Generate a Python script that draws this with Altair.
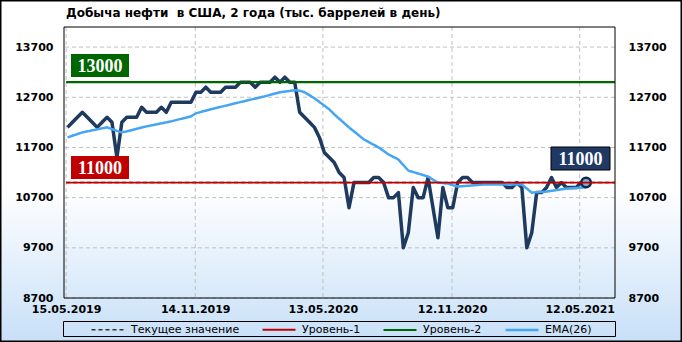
import altair as alt
import pandas as pd

TITLE = "Добыча нефти \u00a0в США, 2 года (тыс. баррелей в день)"
START = "2019-05-17"

production = [
    12100, 12200, 12300, 12400, 12300, 12200, 12100, 12200, 12300, 12200,
    11500, 12200, 12300, 12300, 12300, 12500, 12400, 12400, 12400, 12500,
    12400, 12600, 12600, 12600, 12600, 12600, 12800, 12800, 12900, 12800,
    12800, 12800, 12900, 12900, 12900, 13000, 13000, 13000, 12900, 13000,
    13000, 13000, 13100, 13000, 13100, 13000, 13000, 12400, 12300, 12200,
    12100, 11900, 11600, 11500, 11400, 11200, 11100, 10500, 11000, 11000,
    11000, 11000, 11100, 11100, 11000, 10700, 10700, 10800, 9700, 10000,
    10900, 10700, 10700, 11100, 10500, 9900, 10900, 10500, 10500, 11000,
    11100, 11100, 11000, 11000, 11000, 11000, 11000, 11000, 11000, 10900,
    10900, 11000, 10900, 9700, 10000, 10800, 10800, 10900, 11100, 10900,
    11000, 10900, 10900, 10900, 11000, 11000,
]

ema_week = [0, 3, 5, 8, 10, 11, 12, 16, 21, 25, 26, 29, 34, 40, 43, 46, 47, 48,
            50, 53, 54, 57, 60, 63, 65, 67, 69, 72, 73, 75, 77, 79, 84, 92, 94,
            97, 101, 104, 105]
ema_value = [11900, 12000, 12040, 12100, 12030, 12000, 12020, 12120, 12220, 12320,
             12380, 12460, 12580, 12720, 12800, 12840, 12830, 12800, 12680, 12460,
             12360, 12100, 11860, 11700, 11560, 11460, 11240, 11150, 11120, 11000,
             10980, 10920, 10960, 10960, 10800, 10820, 10880, 10900, 10900]

level1 = 11000
level2 = 13000
current = 11000
level_span = ["2019-05-15", "2021-07-01"]

x_ticks = ["2019-05-15", "2019-11-14", "2020-05-13", "2020-11-12", "2021-05-12"]
y_ticks = [8700, 9700, 10700, 11700, 12700, 13700]

series_names = ["Текущее значение", "Уровень-1", "Уровень-2", "EMA(26)"]
series_colors = ["#333333", "#C00000", "#006600", "#45A5F5"]
series_dash = [[4, 3], [1, 0], [1, 0], [1, 0]]
series_width = [1.5, 2.5, 2.5, 4]

# ---------- tables ----------
dates = pd.date_range(START, periods=len(production), freq="7D")
df_main = pd.DataFrame({"date": dates.strftime("%Y-%m-%d"), "value": production})
df_ema = pd.DataFrame({"date": [dates[i].strftime("%Y-%m-%d") for i in ema_week],
                       "value": ema_value, "series": "EMA(26)"})
df_l1 = pd.DataFrame({"date": level_span, "value": [level1] * 2, "series": "Уровень-1"})
df_l2 = pd.DataFrame({"date": level_span, "value": [level2] * 2, "series": "Уровень-2"})
df_cur = pd.DataFrame({"date": level_span, "value": [current] * 2, "series": "Текущее значение"})
df_last = df_main.tail(1)
df_xt = pd.DataFrame({"date": x_ticks})
df_yt = pd.DataFrame({"v": y_ticks})
one = pd.DataFrame({"a": [0]})

W, H = 551, 271
FONT = "DejaVu Sans"

def dt(s):
    y, m, d = [int(p) for p in s.split("-")]
    return alt.DateTime(year=y, month=m, date=d)

xs = alt.Scale(domain=[dt("2019-05-12"), dt("2021-07-01")])
ys = alt.Scale(domain=[8700, 14100], nice=False, zero=False)

xaxis = alt.Axis(values=[dt(s) for s in x_ticks], format="%d.%m.%Y", title=None,
                 grid=False, ticks=False, domain=False, labelFont=FONT,
                 labelFontWeight="bold", labelFontSize=11, labelColor="black",
                 labelPadding=5, labelOverlap=False, labelFlush=False, zindex=2)
yaxis = alt.Axis(values=y_ticks, format="d", title=None, grid=False, ticks=False,
                 domain=False, labelFont=FONT, labelFontWeight="bold",
                 labelFontSize=11, labelColor="black", labelPadding=11, zindex=2)
yaxis_r = alt.Axis(values=y_ticks, format="d", title=None, grid=False, ticks=False,
                   domain=False, orient="right", labelFont=FONT, labelFontWeight="bold",
                   labelFontSize=11, labelColor="black", labelPadding=13, zindex=2)

def X(f="date"):
    return alt.X(f, type="temporal", scale=xs, axis=xaxis)

def Y(f="value"):
    return alt.Y(f, type="quantitative", scale=ys, axis=yaxis)

leg = alt.Legend(title=None, orient="none", legendX=26, legendY=285,
                 direction="horizontal", columns=4, columnPadding=18,
                 symbolType="stroke", symbolSize=1089, labelFont=FONT,
                 labelFontSize=11, labelColor="black", labelOffset=5, padding=0,
                 zindex=2)
cs = alt.Scale(domain=series_names, range=series_colors)
ds = alt.Scale(domain=series_names, range=series_dash)
ws = alt.Scale(domain=series_names, range=series_width)

def series_layer(df):
    return alt.Chart(df).mark_line(strokeCap="butt").encode(
        x=X(), y=Y(),
        color=alt.Color("series:N", scale=cs, legend=leg),
        strokeDash=alt.StrokeDash("series:N", scale=ds, legend=leg),
        strokeWidth=alt.StrokeWidth("series:N", scale=ws, legend=leg),
    )

grad = alt.Gradient(gradient="linear", x1=0, y1=0, x2=0, y2=1,
                    stops=[alt.GradientStop(color="#FFFFFF", offset=0),
                           alt.GradientStop(color="#FFFFFF", offset=0.55),
                           alt.GradientStop(color="#C8E0F8", offset=1)])

bg = alt.Chart(one).mark_rect(fill=grad, stroke="black", strokeWidth=1.5).encode(
    x=alt.value(-63.25), x2=alt.value(617.25), y=alt.value(-26.25), y2=alt.value(314.25))

legend_box = alt.Chart(one).mark_rect(fillOpacity=0, stroke="black", strokeWidth=1).encode(
    x=alt.value(-0.5), x2=alt.value(551.5), y=alt.value(294.5), y2=alt.value(309.5))

title = alt.Chart(one).mark_text(text=TITLE, font=FONT, fontSize=12, fontWeight="bold",
                                 align="left", baseline="middle", color="black").encode(
    x=alt.value(2), y=alt.value(-14))

hgrid = alt.Chart(df_yt).mark_rule(color="#C0C0C0", strokeDash=[4, 3], strokeWidth=1).encode(
    y=Y("v"))
vgrid = alt.Chart(df_xt).mark_rule(color="#C0C0C0", strokeDash=[4, 3], strokeWidth=1).encode(
    x=X("date"))

main = alt.Chart(df_main).mark_line(color="#1F3A5F", strokeWidth=3.5, strokeJoin="round").encode(
    x=X(), y=Y())

last_pt = alt.Chart(df_last).mark_point(shape="circle", size=90, fill="#8BAFCB", fillOpacity=1,
                                        stroke="#0F2A50", strokeWidth=2.5, opacity=1).encode(
    x=X(), y=Y())

def label_box(x1, x2, y1, y2, fill, txt, stroke=None):
    kw = {"fill": fill}
    if stroke:
        kw.update(stroke=stroke, strokeWidth=1)
    box = alt.Chart(one).mark_rect(**kw).encode(
        x=alt.value(x1), x2=alt.value(x2), y=alt.value(y1), y2=alt.value(y2))
    t = alt.Chart(one).mark_text(text=txt, font="Liberation Serif", fontSize=18,
                                 fontWeight="bold", color="white", align="center",
                                 baseline="middle").encode(
        x=alt.value((x1 + x2) / 2), y=alt.value((y1 + y2) / 2 + 1))
    return [box, t]

frame = alt.Chart(one).mark_rect(fillOpacity=0, stroke="black", strokeWidth=1).encode(
    x=alt.value(0), x2=alt.value(W), y=alt.value(0), y2=alt.value(H))

inner = alt.layer(
    bg, legend_box, title, hgrid, vgrid,
    series_layer(df_cur), main, series_layer(df_ema), last_pt,
    series_layer(df_l1), series_layer(df_l2),
    *label_box(7, 65, 27, 50, "#006600", str(level2)),
    *label_box(7, 65, 129, 152, "#C00000", str(level1)),
    *label_box(487, 546, 120, 143, "#1F3864", str(current), stroke="black"),
    frame,
)

right = alt.Chart(df_yt).mark_rule(opacity=0).encode(
    y=alt.Y("v", type="quantitative", scale=ys, axis=yaxis_r))

chart = alt.layer(inner, right).resolve_scale(y="independent").properties(
    width=W, height=H,
    padding={"left": 64, "top": 27, "right": 67, "bottom": 44},
    autosize=alt.AutoSizeParams(type="none"),
    background="white",
).configure_view(stroke=None)

chart.save("out.html", embed_options={"renderer": "svg", "actions": False})
